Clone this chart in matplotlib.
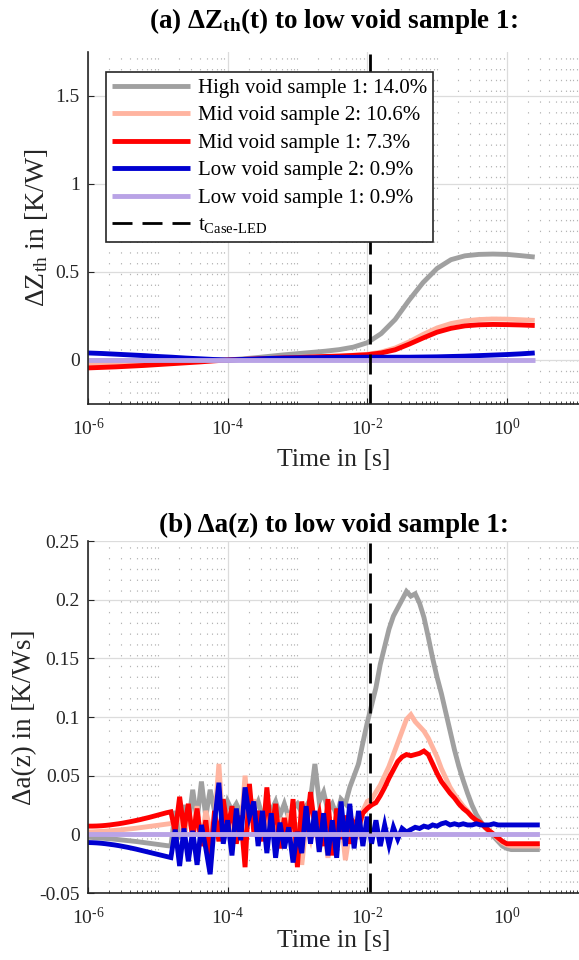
import numpy as np
import matplotlib
matplotlib.use("Agg")
import matplotlib.pyplot as plt
from matplotlib.ticker import LogLocator, NullFormatter

plt.rcParams['font.family'] = ['Liberation Serif', 'DejaVu Serif']
plt.rcParams['mathtext.fontset'] = 'custom'
plt.rcParams['mathtext.rm'] = 'Liberation Serif'
plt.rcParams['mathtext.it'] = 'Liberation Serif:italic'
plt.rcParams['mathtext.bf'] = 'Liberation Serif:bold'

# ---------------- data ----------------
labels = ["High void sample 1: 14.0%", "Mid void sample 2: 10.6%",
          "Mid void sample 1: 7.3%", "Low void sample 2: 0.9%",
          "Low void sample 1: 0.9%"]
colors = ["#a0a0a0", "#ffb4a0", "#ff0000", "#0000d0", "#b9a3e6"]
t_case_led = 0.011

# (a) delta Zth, time grid 0.2 decade steps 1e-6 ... 10^0.4
t_top = 10 ** (np.arange(33) * 0.2 - 6)
dz_high1 = [-0.005, -0.005, -0.004, -0.004, -0.003, -0.003, -0.002, -0.002, -0.001, 0.0, 0.0,
            0.006, 0.013, 0.021, 0.029, 0.036, 0.043, 0.050, 0.059, 0.073, 0.098,
            0.15, 0.23, 0.34, 0.44, 0.52, 0.57, 0.592, 0.6, 0.602, 0.6, 0.593, 0.585]
dz_mid2 = [-0.022, -0.020, -0.018, -0.016, -0.014, -0.012, -0.009, -0.007, -0.005, -0.002, 0.0,
           0.003, 0.006, 0.009, 0.012, 0.015, 0.017, 0.020, 0.023, 0.027, 0.032,
           0.045, 0.068, 0.103, 0.145, 0.182, 0.207, 0.222, 0.230, 0.233, 0.232, 0.229, 0.225]
dz_mid1 = [-0.045, -0.042, -0.039, -0.035, -0.031, -0.026, -0.021, -0.016, -0.011, -0.005, 0.0,
           0.003, 0.006, 0.009, 0.012, 0.014, 0.017, 0.020, 0.022, 0.026, 0.030,
           0.040, 0.058, 0.090, 0.125, 0.158, 0.180, 0.194, 0.200, 0.202, 0.201, 0.199, 0.196]
dz_low2 = [0.040, 0.037, 0.033, 0.029, 0.025, 0.020, 0.016, 0.011, 0.007, 0.003, 0.0,
           0.003, 0.006, 0.009, 0.011, 0.012, 0.013, 0.014, 0.015, 0.015, 0.016,
           0.016, 0.016, 0.016, 0.017, 0.018, 0.020, 0.022, 0.025, 0.028, 0.031, 0.035, 0.040]
dz_low1 = np.zeros(len(t_top))  # reference sample -> difference is zero

# (b) delta a(z), time grid 16 points per decade 1e-6 ... 10^0.4375
t_bot = 10 ** (np.arange(104) / 16 - 6)
da_high1 = [-0.0025, -0.0027, -0.0030, -0.0032, -0.0035, -0.0038, -0.0041, -0.0045, -0.0049, -0.0053,
            -0.0057, -0.0061, -0.0066, -0.0071, -0.0076, -0.0081, -0.0086, -0.0091, -0.0096, -0.0100,
            0.020, -0.004, 0.025, 0.008, 0.038, 0.012, 0.045, 0.015, 0.038, 0.020,
            0.030, 0.012, 0.028, 0.020, 0.026, 0.018, 0.030, 0.022, 0.020, 0.028,
            0.015, 0.025, 0.020, 0.028, 0.016, 0.026, 0.014, 0.022, 0.026, 0.018,
            0.024, 0.030, 0.060, 0.028, 0.036, 0.020, 0.026, 0.016, 0.030, 0.026,
            0.040, 0.050, 0.060, 0.078, 0.095, 0.110, 0.125, 0.145, 0.160, 0.175,
            0.186, 0.193, 0.200, 0.207, 0.203, 0.205, 0.197, 0.185, 0.168, 0.150,
            0.134, 0.120, 0.104, 0.088, 0.072, 0.058, 0.046, 0.035, 0.025, 0.017,
            0.011, 0.006, 0.002, -0.002, -0.006, -0.010, -0.012, -0.013, -0.013, -0.013,
            -0.013, -0.013, -0.013, -0.013]
da_mid2 = [0.0020, 0.0021, 0.0023, 0.0025, 0.0027, 0.0030, 0.0033, 0.0036, 0.0040, 0.0044,
           0.0048, 0.0052, 0.0057, 0.0062, 0.0067, 0.0072, 0.0077, 0.0082, 0.0087, 0.0092,
           0.008, 0.022, -0.004, 0.018, 0.002, 0.024, -0.008, 0.020, 0.004, 0.010,
           0.060, 0.000, 0.018, -0.010, 0.012, 0.002, 0.050, 0.010, 0.030, -0.006,
           0.016, -0.004, 0.020, -0.012, 0.014, -0.006, 0.018, -0.020, 0.010, -0.026,
           0.008, -0.004, 0.016, -0.014, 0.006, -0.020, 0.010, -0.008, 0.012, -0.022,
           0.002, 0.010, -0.004, 0.020,
           0.028, 0.030, 0.036, 0.042, 0.050, 0.058, 0.068, 0.078, 0.088, 0.098,
           0.102, 0.096, 0.092, 0.088, 0.082, 0.074, 0.066, 0.056, 0.048, 0.040,
           0.034, 0.029, 0.024, 0.020, 0.015, 0.012, 0.010, 0.006, 0.003, 0.000,
           -0.004, -0.007, -0.009, -0.010, -0.010, -0.010, -0.010, -0.010, -0.010, -0.010]
da_mid1 = [0.0070, 0.0070, 0.0071, 0.0073, 0.0076, 0.0080, 0.0085, 0.0090, 0.0096, 0.0103,
           0.0110, 0.0118, 0.0126, 0.0135, 0.0144, 0.0154, 0.0164, 0.0174, 0.0184, 0.0192,
           0.002, 0.032, 0.004, 0.026, -0.004, 0.022, -0.010, 0.012, -0.022, 0.020,
           -0.006, 0.030, 0.004, 0.024, -0.008, 0.016, -0.028, 0.043, 0.002, 0.020,
           -0.006, 0.040, 0.000, 0.026, -0.012, 0.014, -0.006, 0.030, -0.028, 0.028,
           0.002, 0.036, 0.006, 0.018, -0.010, 0.030, -0.018, 0.022, -0.004, 0.016,
           -0.008, 0.010, 0.006, 0.018,
           0.022, 0.025, 0.027, 0.033, 0.040, 0.048, 0.055, 0.062, 0.066, 0.068,
           0.067, 0.068, 0.069, 0.071, 0.068, 0.060, 0.052, 0.045, 0.040, 0.035,
           0.031, 0.026, 0.022, 0.019, 0.015, 0.012, 0.010, 0.006, 0.003, 0.000,
           -0.003, -0.006, -0.008, -0.008, -0.008, -0.008, -0.008, -0.008, -0.008, -0.008]
da_low2 = [-0.0070, -0.0071, -0.0073, -0.0076, -0.0080, -0.0085, -0.0090, -0.0096, -0.0103, -0.0110,
           -0.0118, -0.0126, -0.0135, -0.0144, -0.0153, -0.0162, -0.0171, -0.0180, -0.0189, -0.0198,
           0.004, -0.027, 0.005, -0.023, 0.003, -0.026, 0.008, -0.012, -0.034, 0.010,
           0.044, -0.008, 0.012, -0.018, 0.022, -0.005, 0.040, 0.015, 0.028, -0.010,
           0.020, -0.016, 0.018, -0.020, 0.010, -0.012, 0.006, -0.024, 0.002, -0.016,
           0.024, -0.008, 0.020, -0.015, 0.018, -0.018, 0.012, -0.020, 0.028, -0.010,
           0.026, -0.012, 0.020, -0.010,
           0.015, -0.008, 0.012, -0.010, 0.008, -0.009, 0.006, -0.004, 0.005, 0.002,
           0.004, 0.006, 0.005, 0.007, 0.006, 0.008, 0.007, 0.009, 0.010, 0.008,
           0.009, 0.008, 0.009, 0.008, 0.008, 0.009, 0.008, 0.008, 0.008, 0.009,
           0.008, 0.008, 0.008, 0.008, 0.008, 0.008, 0.008, 0.008, 0.008, 0.008]
da_low1 = np.zeros(len(t_bot))  # reference sample

top_yticks = [0, 0.5, 1, 1.5]
top_yticklabels = ["0", "0.5", "1", "1.5"]
bot_yticks = [-0.05, 0, 0.05, 0.1, 0.15, 0.2, 0.25]
bot_yticklabels = ["-0.05", "0", "0.05", "0.1", "0.15", "0.2", "0.25"]
xticks = [1e-6, 1e-4, 1e-2, 1e0]
xticklabels = [r"$10^{\text{-}6}$", r"$10^{\text{-}4}$", r"$10^{\text{-}2}$", r"$10^{0}$"]

# ---------------- figure ----------------
W, H = 579, 960
fig = plt.figure(figsize=(W / 100, H / 100), dpi=100)
ax_l = 88 / W
ax_w = 1 - ax_l
ax_h = 352 / H
ax1 = fig.add_axes([ax_l, 1 - 404 / H, ax_w, ax_h])
ax2 = fig.add_axes([ax_l, 1 - 893 / H, ax_w, ax_h])

axcol = (0.15, 0.15, 0.15)


def style_axes(ax, yticks, yticklabels, ylim):
    ax.set_xscale("log")
    ax.set_xlim(1e-6, 10 ** 1.034)
    ax.set_ylim(*ylim)
    ax.set_xticks(xticks, xticklabels)
    ax.xaxis.set_minor_locator(LogLocator(base=10, subs=np.arange(1, 10), numticks=60))
    ax.xaxis.set_minor_formatter(NullFormatter())
    ax.set_yticks(yticks, yticklabels)
    for s in ["top", "right"]:
        ax.spines[s].set_visible(False)
    for s in ["left", "bottom"]:
        ax.spines[s].set_color(axcol)
        ax.spines[s].set_linewidth(1.2)
    ax.tick_params(which="both", direction="in", colors=axcol, labelsize=14)
    ax.tick_params(which="major", length=4, width=0.8)
    ax.tick_params(which="minor", length=2.5, width=0.6)
    ax.tick_params(axis="x", which="major", pad=10)
    ax.tick_params(axis="y", which="major", pad=6)
    ax.grid(True, which="major", color="#dcdcdc", lw=0.9, ls="-")
    ax.grid(True, which="minor", axis="x", color="#b4b4b4", lw=0.8, ls=(0, (1.2, 8.5)))
    ax.set_axisbelow(True)


style_axes(ax1, top_yticks, top_yticklabels, (-0.25, 1.75))
style_axes(ax2, bot_yticks, bot_yticklabels, (-0.05, 0.25))

lw = 3.5
top_series = [dz_high1, dz_mid2, dz_mid1, dz_low2, dz_low1]
for y, c, lab in zip(top_series, colors, labels):
    ax1.plot(t_top, y, color=c, lw=lw, label=lab, solid_capstyle="butt")
bot_series = [da_high1, da_mid2, da_mid1, da_low2, da_low1]
for y, c in zip(bot_series, colors):
    ax2.plot(t_bot, y, color=c, lw=lw, solid_joinstyle="miter")

for ax in (ax1, ax2):
    ax.axvline(t_case_led, color="black", lw=2, ls=(0, (7.2, 3.6)),
               label=r"t$_{\text{Case-LED}}$" if ax is ax1 else None)

leg = ax1.legend(loc="upper left", bbox_to_anchor=(18 / 491, 332 / 352),
                 borderaxespad=0, fontsize=15, frameon=True, fancybox=False,
                 framealpha=1, edgecolor=axcol, handlelength=3.75,
                 handletextpad=0.35, labelspacing=0.38, borderpad=0.3)
leg.get_frame().set_linewidth(1.2)

ax1.text(0.5, 1 + 24 / 352, r"(a) ΔZ$_{\mathbf{th}}$(t) to low void sample 1:",
         transform=ax1.transAxes, ha="center", va="baseline",
         fontsize=19.5, fontweight="bold")
ax2.text(0.5, 1 + 9 / 352, "(b) Δa(z) to low void sample 1:",
         transform=ax2.transAxes, ha="center", va="baseline",
         fontsize=19.5, fontweight="bold")

ax1.set_xlabel("Time in [s]", fontsize=18.5, color=axcol)
ax2.set_xlabel("Time in [s]", fontsize=18.5, color=axcol)
ax1.set_ylabel(r"ΔZ$_{\mathrm{th}}$ in [K/W]", fontsize=20, color=axcol)
ax2.set_ylabel("Δa(z) in [K/Ws]", fontsize=19.5, color=axcol)
ax1.yaxis.set_label_coords(-38 / 491, 0.5)
ax2.yaxis.set_label_coords(-51 / 491, 0.5)
ax1.xaxis.set_label_coords(0.5, -45 / 352)
ax2.xaxis.set_label_coords(0.5, -37 / 352)

fig.savefig("out.png", dpi=100)
